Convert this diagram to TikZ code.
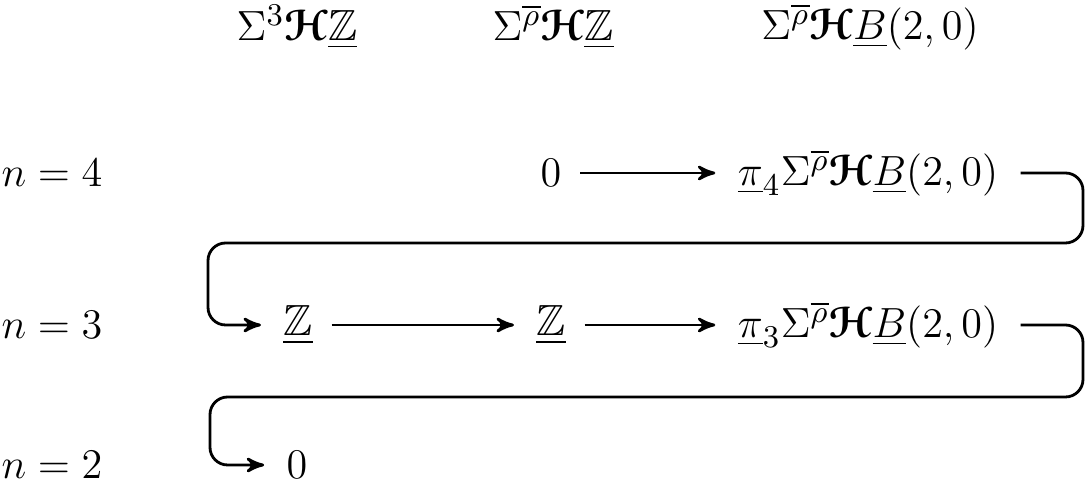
\documentclass[tikz,border=0pt]{standalone}
\usepackage{amsmath,amssymb,bm}
\usepackage[mathcal]{eucal}
\usetikzlibrary{arrows}
\newcommand{\HH}{\bm{\mathcal{H}}}
\begin{document}
\begin{tikzpicture}[x=0.01cm,y=-0.01cm,>=stealth',thick,
  term/.style={inner sep=2pt,font=\fontsize{12.4}{15}\selectfont},
  wrap/.style={->,rounded corners=5pt}]
  \useasboundingbox (0,0) rectangle (1088,483);

  % column headers
  \node[term] (h1) at (297,27) {$\Sigma^{3}\HH\underline{\mathbb{Z}}$};
  \node[term] (h2) at (553,27) {$\Sigma^{\overline{\rho}}\HH\underline{\mathbb{Z}}$};
  \node[term] (h3) at (870,27) {$\Sigma^{\overline{\rho}}\HH\underline{B}(2,0)$};

  % row labels
  \node[term] (r4) at (52,173) {$n=4$};
  \node[term] (r3) at (52,325) {$n=3$};
  \node[term] (r2) at (52,465) {$n=2$};

  \node[term] (a2) at (551,173) {$0$};
  \node[term] (a3) at (868,173) {$\underline{\pi}_4\Sigma^{\overline{\rho}}\HH\underline{B}(2,0)$};
  \node[term] (b1) at (298,325) {$\underline{\mathbb{Z}}$};
  \node[term] (b2) at (551,325) {$\underline{\mathbb{Z}}$};
  \node[term] (b3) at (868,325) {$\underline{\pi}_3\Sigma^{\overline{\rho}}\HH\underline{B}(2,0)$};
  \node[term] (c1) at (297,465) {$0$};

  \draw[->,shorten <=3pt,shorten >=4pt] (a2) -- (a3);
  \draw[->,shorten <=3pt,shorten >=4pt] (b1) -- (b2);
  \draw[->,shorten <=3pt,shorten >=4pt] (b2) -- (b3);
  \draw[wrap] ([xshift=4pt]a3.east) -- (1083,173) -- (1083,243) -- (208,243)
    -- (208,325) -- ([xshift=-4pt]b1.west);
  \draw[wrap] ([xshift=4pt]b3.east) -- (1083,325) -- (1083,397) -- (210,397)
    -- (210,465) -- ([xshift=-4pt]c1.west);
\end{tikzpicture}
\end{document}
